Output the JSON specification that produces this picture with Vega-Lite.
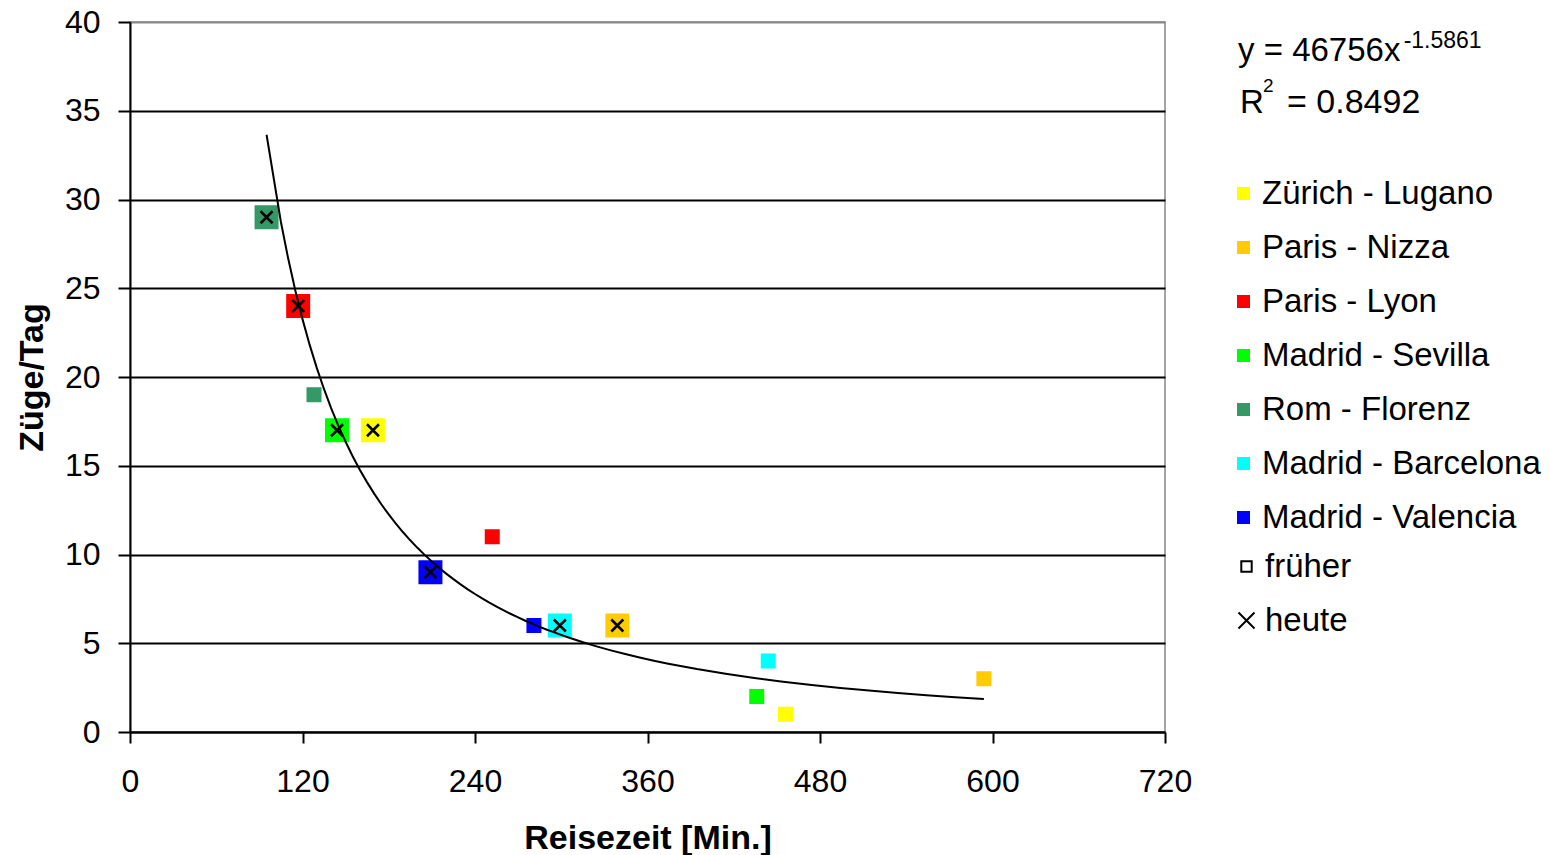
{
  "$schema": "https://vega.github.io/schema/vega-lite/v6.json",
  "autosize": {"type": "none"},
  "width": 1035,
  "height": 710,
  "padding": {"left": 130, "top": 22, "right": 385, "bottom": 123},
  "background": "white",
  "config": {
    "font": "Liberation Sans",
    "view": {"stroke": "#888888", "strokeWidth": 1.5},
    "axis": {"labelColor": "black", "titleColor": "black", "domainColor": "black", "tickColor": "black"}
  },
  "data": {
    "values": [
      {"strecke": "Rom - Florenz", "zeit": "heute", "x": 95, "y": 29},
      {"strecke": "Paris - Lyon", "zeit": "heute", "x": 117, "y": 24},
      {"strecke": "Madrid - Sevilla", "zeit": "heute", "x": 144, "y": 17},
      {"strecke": "Zürich - Lugano", "zeit": "heute", "x": 169, "y": 17},
      {"strecke": "Madrid - Valencia", "zeit": "heute", "x": 209, "y": 9},
      {"strecke": "Madrid - Barcelona", "zeit": "heute", "x": 299, "y": 6},
      {"strecke": "Paris - Nizza", "zeit": "heute", "x": 339, "y": 6},
      {"strecke": "Rom - Florenz", "zeit": "früher", "x": 128, "y": 19},
      {"strecke": "Paris - Lyon", "zeit": "früher", "x": 252, "y": 11},
      {"strecke": "Madrid - Valencia", "zeit": "früher", "x": 281, "y": 6},
      {"strecke": "Madrid - Barcelona", "zeit": "früher", "x": 444, "y": 4},
      {"strecke": "Madrid - Sevilla", "zeit": "früher", "x": 436, "y": 2},
      {"strecke": "Zürich - Lugano", "zeit": "früher", "x": 456, "y": 1},
      {"strecke": "Paris - Nizza", "zeit": "früher", "x": 594, "y": 3}
    ]
  },
  "layer": [
    {
      "transform": [{"filter": "datum.zeit === 'heute'"}],
      "mark": {"type": "point", "shape": "square", "filled": true, "opacity": 1, "strokeWidth": 0, "size": 576},
      "encoding": {
        "x": {
          "field": "x", "type": "quantitative",
          "scale": {"domain": [0, 720], "nice": false},
          "axis": {
            "values": [0, 120, 240, 360, 480, 600, 720],
            "grid": false,
            "title": "Reisezeit [Min.]",
            "titleFontSize": 34, "titleFontWeight": "bold", "titlePadding": 24,
            "labelFontSize": 32, "labelPadding": 23, "labelFlush": false,
            "tickSize": 11, "tickWidth": 2, "domainWidth": 2
          }
        },
        "y": {
          "field": "y", "type": "quantitative",
          "scale": {"domain": [0, 40], "nice": false},
          "axis": {
            "values": [0, 5, 10, 15, 20, 25, 30, 35, 40],
            "grid": true,
            "gridColor": {"condition": {"test": "datum.value === 40", "value": "#888888"}, "value": "#000000"},
            "gridWidth": 2,
            "title": "Züge/Tag",
            "titleFontSize": 34, "titleFontWeight": "bold", "titlePadding": 15,
            "labelFontSize": 32, "labelPadding": 18, "labelFlush": false,
            "tickSize": 12, "tickWidth": 2, "domainWidth": 2
          }
        },
        "color": {
          "field": "strecke", "type": "nominal",
          "scale": {
            "domain": ["Zürich - Lugano", "Paris - Nizza", "Paris - Lyon", "Madrid - Sevilla", "Rom - Florenz", "Madrid - Barcelona", "Madrid - Valencia"],
            "range": ["#FFFF00", "#FFCC00", "#FF0000", "#00FF00", "#339966", "#00FFFF", "#0000FF"]
          },
          "legend": {
            "orient": "none", "legendX": 1097, "legendY": 155, "title": null,
            "symbolType": "square", "symbolSize": 169, "symbolStrokeWidth": 0, "symbolOpacity": 1,
            "labelFontSize": 33, "labelColor": "black", "labelOffset": 2, "labelLimit": 400,
            "rowPadding": 20, "padding": 0
          }
        }
      }
    },
    {
      "transform": [{"filter": "datum.zeit === 'früher'"}],
      "mark": {"type": "point", "shape": "square", "filled": true, "opacity": 1, "strokeWidth": 0, "size": 225},
      "encoding": {
        "x": {"field": "x", "type": "quantitative"},
        "y": {"field": "y", "type": "quantitative"},
        "color": {"field": "strecke", "type": "nominal"}
      }
    },
    {
      "transform": [{"regression": "y", "on": "x", "method": "pow"}],
      "mark": {"type": "line", "color": "black", "strokeWidth": 2},
      "encoding": {
        "x": {"field": "x", "type": "quantitative"},
        "y": {"field": "y", "type": "quantitative"}
      }
    },
    {
      "transform": [{"filter": "datum.zeit === 'heute'"}],
      "mark": {"type": "point", "filled": false, "color": "black", "strokeWidth": 2.5, "size": 144, "opacity": 1},
      "encoding": {
        "x": {"field": "x", "type": "quantitative"},
        "y": {"field": "y", "type": "quantitative"},
        "shape": {
          "field": "zeit", "type": "nominal",
          "scale": {"domain": ["früher", "heute"], "range": ["M-0.65,-0.65H0.65V0.65H-0.65Z", "M-1,-1L1,1M-1,1L1,-1"]},
          "legend": {
            "orient": "none", "legendX": 1100, "legendY": 528, "title": null,
            "symbolSize": 256, "symbolStrokeColor": "black", "symbolFillColor": "transparent", "symbolStrokeWidth": 2,
            "labelFontSize": 33, "labelColor": "black", "labelOffset": 2, "rowPadding": 20, "padding": 0
          }
        }
      }
    },
    {
      "data": {"values": [{}]},
      "mark": {"type": "text", "text": "y = 46756x", "align": "left", "baseline": "alphabetic", "fontSize": 33, "color": "black"},
      "encoding": {"x": {"datum": 770.8}, "y": {"datum": 37.83}}
    },
    {
      "data": {"values": [{}]},
      "mark": {"type": "text", "text": "-1.5861", "align": "left", "baseline": "alphabetic", "fontSize": 23, "color": "black"},
      "encoding": {"x": {"datum": 886}, "y": {"datum": 38.51}}
    },
    {
      "data": {"values": [{}]},
      "mark": {"type": "text", "text": "R", "align": "left", "baseline": "alphabetic", "fontSize": 33, "color": "black"},
      "encoding": {"x": {"datum": 772.2}, "y": {"datum": 34.9}}
    },
    {
      "data": {"values": [{}]},
      "mark": {"type": "text", "text": "2", "align": "left", "baseline": "alphabetic", "fontSize": 19, "color": "black"},
      "encoding": {"x": {"datum": 788.2}, "y": {"datum": 36.06}}
    },
    {
      "data": {"values": [{}]},
      "mark": {"type": "text", "text": "= 0.8492", "align": "left", "baseline": "alphabetic", "fontSize": 34, "color": "black"},
      "encoding": {"x": {"datum": 804.9}, "y": {"datum": 34.9}}
    }
  ]
}
